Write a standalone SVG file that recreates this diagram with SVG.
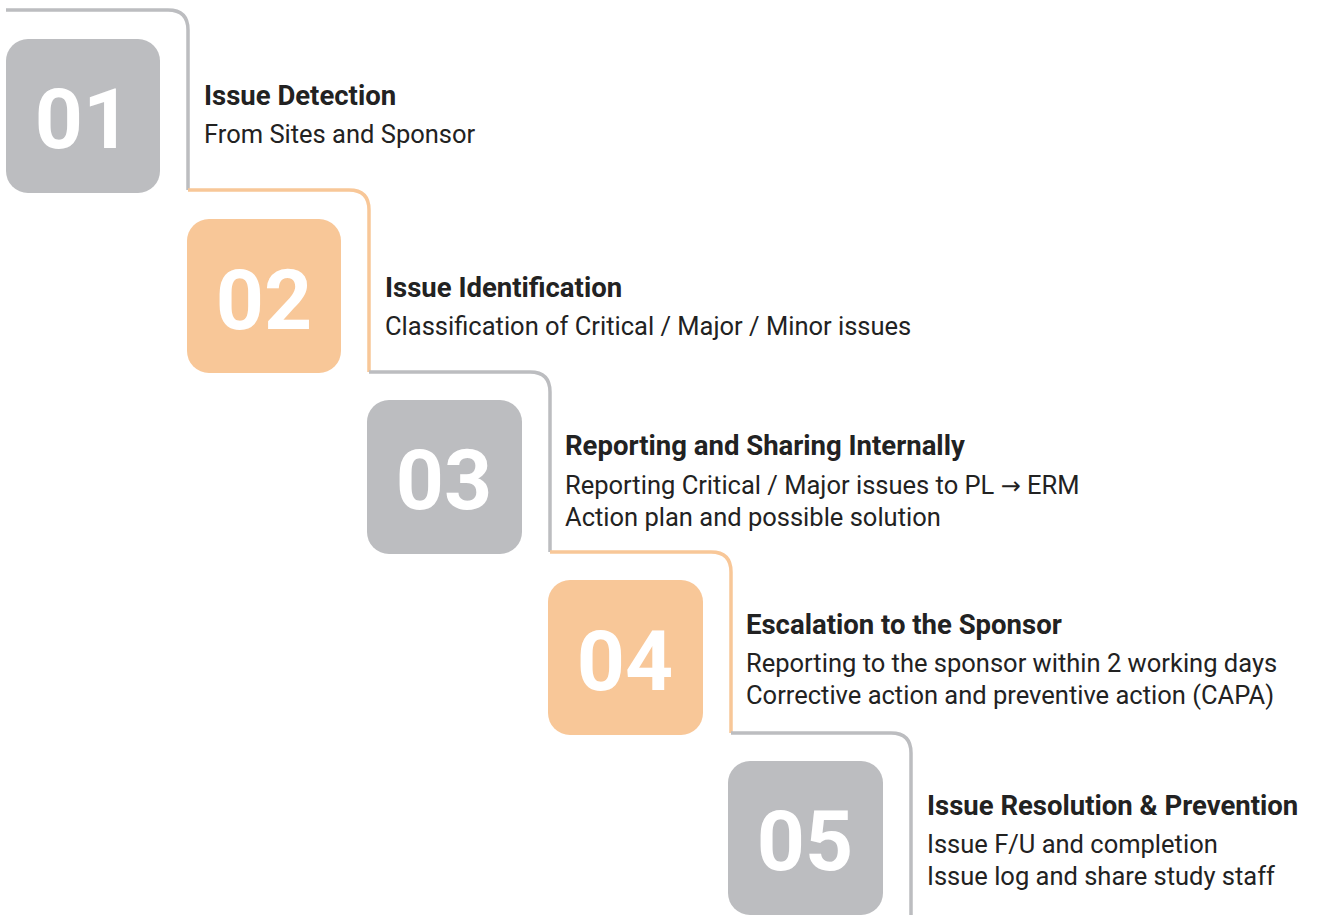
<svg xmlns="http://www.w3.org/2000/svg" width="1319" height="923" viewBox="0 0 1319 923">
<style>
.bg{fill:#ffffff}
.gbox{fill:#bcbdc0}
.obox{fill:#f8c798}
.gl{fill:none;stroke:#bcbdc0;stroke-width:3.5}
.ol{fill:none;stroke:#f8c798;stroke-width:3.5}
.num{font-family:Roboto,"Liberation Sans",sans-serif;font-weight:700;font-size:84px;fill:#ffffff;text-anchor:middle}
.t{font-family:Roboto,"Noto Sans","Liberation Sans",sans-serif;font-weight:700;font-size:27.5px;fill:#222222}
.s{font-family:Roboto,"Noto Sans","Liberation Sans",sans-serif;font-weight:400;font-size:25.5px;fill:#222222}
.ar{font-family:"DejaVu Sans",sans-serif;font-size:24px}
</style>
<rect class="bg" width="1319" height="923"/>
<g id="connectors">
<path class="gl" d="M6 10 H168 Q188 10 188 30 V190"/>
<path class="ol" d="M188 190 H349 Q369 190 369 210 V372"/>
<path class="gl" d="M369 372 H530 Q550 372 550 392 V552"/>
<path class="ol" d="M550 552 H711 Q731 552 731 572 V733"/>
<path class="gl" d="M731 733 H891 Q911 733 911 753 V915"/>
</g>
<g id="step1">
<rect class="gbox" x="6" y="39" width="154" height="154" rx="22"/>
<text class="num" x="83" y="148">01</text>
<text class="t" x="204" y="105">Issue Detection</text>
<text class="s" x="204" y="143">From Sites and Sponsor</text>
</g>
<g id="step2">
<rect class="obox" x="187" y="219" width="154" height="154" rx="22"/>
<text class="num" x="264" y="329">02</text>
<text class="t" x="385" y="297">Issue Identification</text>
<text class="s" x="385" y="335">Classification of Critical / Major / Minor issues</text>
</g>
<g id="step3">
<rect class="gbox" x="367" y="400" width="155" height="154" rx="22"/>
<text class="num" x="444" y="509">03</text>
<text class="t" x="565" y="455">Reporting and Sharing Internally</text>
<text class="s" x="565" y="494">Reporting Critical / Major issues to PL <tspan class="ar">→</tspan> ERM</text>
<text class="s" x="565" y="526">Action plan and possible solution</text>
</g>
<g id="step4">
<rect class="obox" x="548" y="580" width="155" height="155" rx="22"/>
<text class="num" x="625" y="690">04</text>
<text class="t" x="746" y="634">Escalation to the Sponsor</text>
<text class="s" x="746" y="672">Reporting to the sponsor within 2 working days</text>
<text class="s" x="746" y="704">Corrective action and preventive action (CAPA)</text>
</g>
<g id="step5">
<rect class="gbox" x="728" y="761" width="155" height="154" rx="22"/>
<text class="num" x="805" y="870">05</text>
<text class="t" x="927" y="815">Issue Resolution &amp; Prevention</text>
<text class="s" x="927" y="853">Issue F/U and completion</text>
<text class="s" x="927" y="885">Issue log and share study staff</text>
</g>
</svg>
